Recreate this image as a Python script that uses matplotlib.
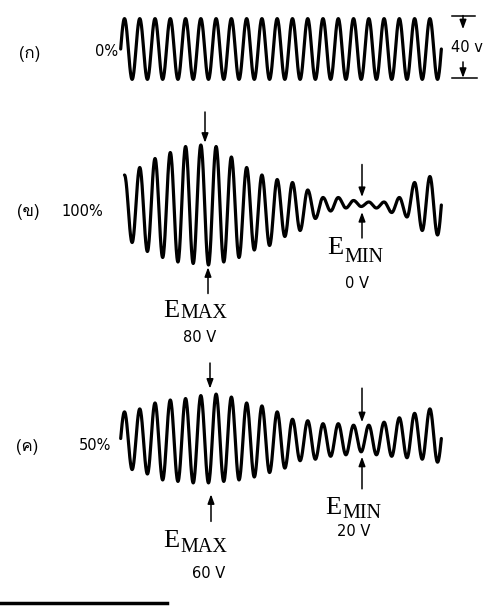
"""
AM waveforms at 0 %, 100 % and 50 % modulation (carrier, E_MAX / E_MIN).
"""

import numpy as np
import matplotlib
matplotlib.use('Agg')
import matplotlib.pyplot as plt
from matplotlib import font_manager
from matplotlib.ft2font import FT2Font
from matplotlib.lines import Line2D

# ── values (volts, one peak / trough per carrier cycle) ──
PANEL_LABELS = ["(ก)", "(ข)", "(ค)"]
MOD_DEPTH    = ["0%", "100%", "50%"]
CARRIER_PP   = 40          # panel (ก) peak-to-peak
EMAX_V       = [80, 60]    # panels (ข), (ค)
EMIN_V       = [0, 20]

PEAKS_A   = [20, 20, 20, 20, 20, 20, 20, 20, 20, 20, 20,
             20, 20, 20, 20, 20, 20, 20, 20, 20, 20]
TROUGHS_A = [-20, -20, -20, -20, -20, -20, -20, -20, -20, -20, -20,
             -20, -20, -20, -20, -20, -20, -20, -20, -20, -20]

PEAKS_B   = [20, 25, 31, 35, 39, 40, 39, 32, 25, 20, 17,
             15, 10, 5, 5, 3, 2, 2, 5, 15, 19]
TROUGHS_B = [-25, -31, -35, -38, -39, -40, -38, -35, -30, -27, -21,
             -17, -9, -4, -2, -1, -2, -5, -8, -17, -20]

PEAKS_C   = [18, 20, 24, 26, 27, 29, 30, 28, 24, 22, 18,
             13, 12, 10, 10, 9, 9, 11, 14, 17, 20]
TROUGHS_C = [-21, -24, -28, -29, -30, -30, -29, -28, -26, -23, -20,
             -15, -14, -12, -11, -9, -11, -12, -13, -14, -16]

W, H = 489, 606
X0_PX, CYCLE_PX = 124.5, 15.27   # first peak position, pixels per carrier cycle


def thai_family():
    # pick any installed font that has Thai glyphs
    for f in font_manager.fontManager.ttflist:
        try:
            if 0x0E01 in FT2Font(f.fname).get_charmap():
                return f.name
        except Exception:
            pass
    return None


def carrier(peaks, troughs, start_mid):
    """Carrier drawn through the read extremes, half a cycle between each."""
    ext = []
    for p, t in zip(peaks, troughs):
        ext += [p, t]
    xs, ys = [], []
    if start_mid:
        s = np.linspace(0, 1, 12)
        xs.append(-0.25 + 0.25 * s)
        ys.append(ext[0] * np.sin(np.pi / 2 * s))
    for i in range(len(ext) - 1):
        a, b = ext[i], ext[i + 1]
        s = np.linspace(0, 1, 24)
        xs.append(i * 0.5 + 0.5 * s)
        ys.append((a + b) / 2 + (a - b) / 2 * np.cos(np.pi * s))
    s = np.linspace(0, 1, 12)
    xs.append((len(ext) - 1) * 0.5 + 0.25 * s)
    ys.append(ext[-1] * np.cos(np.pi / 2 * s))
    return np.concatenate(xs), np.concatenate(ys)


def panel_axes(fig, top, bottom, mid, scale):
    ax = fig.add_axes([0, 1 - bottom / H, 1, (bottom - top) / H])
    ax.set_xlim(-X0_PX / CYCLE_PX, (W - X0_PX) / CYCLE_PX)
    ax.set_ylim(-(bottom - mid) / scale, (mid - top) / scale)
    ax.axis('off')
    return ax


def cyc(px):
    return (px - X0_PX) / CYCLE_PX


def ftext(fig, x, y, s, **kw):
    fig.text(x / W, 1 - y / H, s, **kw)


def arrow(ax, x, y_tail, y_tip):
    ax.annotate("", xy=(x, y_tip), xytext=(x, y_tail),
                arrowprops=dict(arrowstyle='-|>,head_length=0.55,head_width=0.2',
                                color='black', lw=1.1, shrinkA=0, shrinkB=0))


def e_label(fig, x, base, sub, sub_base):
    ftext(fig, x, base, "E", fontsize=19, family='Liberation Serif',
          ha='left', va='baseline')
    ftext(fig, x + 17, sub_base, sub, fontsize=14.5, family='Liberation Serif',
          ha='left', va='baseline')


thai = thai_family()
label_family = [thai, 'DejaVu Sans'] if thai else ['DejaVu Sans']
sans = 'DejaVu Sans'

fig = plt.figure(figsize=(W / 100, H / 100), dpi=100)
fig.patch.set_facecolor('white')

wave_kw = dict(color='black', lw=2.3, solid_capstyle='round', solid_joinstyle='round')

# ── (ก) unmodulated carrier ──────────────────────────────────────────────────
ax_a = panel_axes(fig, 0, 125, 49, 1.52)
x, y = carrier(PEAKS_A, TROUGHS_A, start_mid=True)
ax_a.plot(x, y, **wave_kw)

bx = cyc(463)
ax_a.plot([cyc(452), cyc(475)], [CARRIER_PP / 2 + 2] * 2, color='black', lw=1.1)
ax_a.plot([cyc(452), cyc(477)], [-CARRIER_PP / 2 + 1] * 2, color='black', lw=1.1)
arrow(ax_a, bx, CARRIER_PP / 2 + 2, 13)
arrow(ax_a, bx, -8.5, -CARRIER_PP / 2 + 1)
ftext(fig, 467, 47, f"{CARRIER_PP} v", fontsize=10.5, family=sans, ha='center', va='center')

ftext(fig, 30, 54, PANEL_LABELS[0], fontsize=12, family=label_family, ha='center', va='center')
ftext(fig, 107, 52, MOD_DEPTH[0], fontsize=10.5, family=sans, ha='center', va='center')

# ── (ข) 100 % modulation ─────────────────────────────────────────────────────
ax_b = panel_axes(fig, 125, 350, 205, 1.5)
x, y = carrier(PEAKS_B, TROUGHS_B, start_mid=False)
ax_b.plot(x, y, **wave_kw)

arrow(ax_b, cyc(205), 62, max(PEAKS_B) + 1.5)
arrow(ax_b, cyc(208), -59, min(TROUGHS_B) - 1.5)
arrow(ax_b, cyc(362), 27, 5.3)
arrow(ax_b, cyc(362), -22, -4.7)

ftext(fig, 28, 212, PANEL_LABELS[1], fontsize=12, family=label_family, ha='center', va='center')
ftext(fig, 82, 212, MOD_DEPTH[1], fontsize=10.5, family=sans, ha='center', va='center')
e_label(fig, 163, 317, "MAX", 318)
ftext(fig, 200, 337, f"{EMAX_V[0]} V", fontsize=10.5, family=sans, ha='center', va='center')
e_label(fig, 327, 254, "MIN", 262)
ftext(fig, 357, 284, f"{EMIN_V[0]} V", fontsize=10.5, family=sans, ha='center', va='center')

# ── (ค) 50 % modulation ──────────────────────────────────────────────────────
ax_c = panel_axes(fig, 350, 606, 438.5, 1.48)
x, y = carrier(PEAKS_C, TROUGHS_C, start_mid=True)
ax_c.plot(x, y, **wave_kw)

arrow(ax_c, cyc(210), 51, 33.7)
arrow(ax_c, cyc(211), -56, -37.7)
arrow(ax_c, cyc(362), 34, 11)
arrow(ax_c, cyc(362), -34, -12.3)

ftext(fig, 27, 447, PANEL_LABELS[2], fontsize=12, family=label_family, ha='center', va='center')
ftext(fig, 95, 446, MOD_DEPTH[2], fontsize=10.5, family=sans, ha='center', va='center')
e_label(fig, 163, 547, "MAX", 552)
ftext(fig, 209, 573, f"{EMAX_V[1]} V", fontsize=10.5, family=sans, ha='center', va='center')
e_label(fig, 325, 514, "MIN", 518)
ftext(fig, 354, 531, f"{EMIN_V[1]} V", fontsize=10.5, family=sans, ha='center', va='center')

# page edge line at the bottom of the scan
fig.add_artist(Line2D([0, 167 / W], [1 - 603 / H] * 2, color='black', lw=2.5))

fig.savefig("out.png", dpi=100, facecolor='white')
plt.close(fig)
